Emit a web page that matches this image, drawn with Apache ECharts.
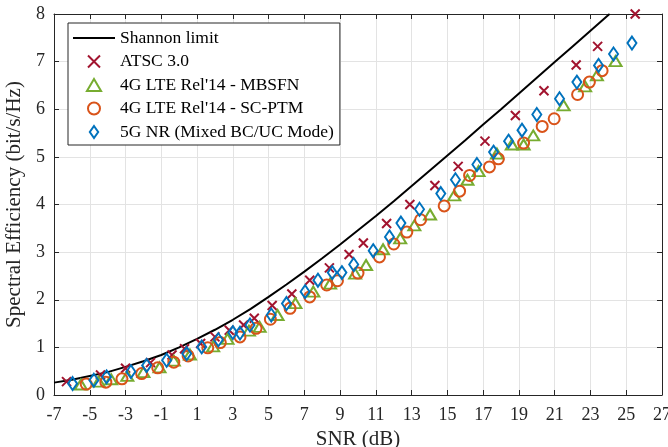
<!DOCTYPE html>
<html>
<head>
<meta charset="utf-8">
<script src="https://cdn.jsdelivr.net/npm/echarts@6/dist/echarts.min.js"></script>
<style>
html,body{margin:0;padding:0;background:#fff;}
#chart{width:668px;height:447px;}
</style>
</head>
<body>
<div id="chart"></div>
<script>
// Shannon limit
const snrShannon = [-7,-6,-5,-4,-3,-2,-1,0,1,2,3,4,5,6,7,8,9,10,11,12,13,14,15,16,17,18,19,20,21,22,23,24,24.07];
const seShannon  = [0.26,0.32,0.40,0.48,0.59,0.71,0.84,1.00,1.18,1.37,1.58,1.81,2.06,2.32,2.59,2.87,3.16,3.46,3.76,4.07,4.39,4.71,5.03,5.35,5.68,6.00,6.33,6.66,6.99,7.32,7.65,7.98,8.00];

// ATSC 3.0
const snrATSC = [-6.3,-4.4,-3.0,-1.6,-0.4,0.3,1.2,2.0,2.8,3.6,4.2,5.2,6.3,7.3,8.4,9.5,10.3,11.6,12.9,14.3,15.6,17.1,18.8,20.4,22.2,23.4,25.5];
const seATSC  = [0.28,0.42,0.56,0.68,0.84,0.97,1.08,1.22,1.36,1.47,1.61,1.88,2.12,2.41,2.67,2.95,3.19,3.60,4.00,4.40,4.80,5.33,5.87,6.39,6.93,7.32,8.00];

// 4G LTE Rel'14 - MBSFN
const snrMBSFN = [-5.5,-4.5,-3.8,-2.9,-2.0,-1.1,-0.3,0.6,1.9,2.7,3.9,4.5,5.5,6.5,7.5,8.44,9.84,10.45,11.4,12.36,13.15,14.03,15.38,16.12,16.74,17.77,18.6,19.26,19.8,21.5,22.7,23.36,24.4];
const seMBSFN  = [0.22,0.28,0.33,0.40,0.48,0.58,0.72,0.85,1.02,1.18,1.35,1.43,1.68,1.93,2.17,2.34,2.55,2.73,3.06,3.29,3.56,3.79,4.19,4.52,4.70,5.07,5.26,5.26,5.45,6.08,6.48,6.71,7.01];

// 4G LTE Rel'14 - SC-PTM
const snrSCPTM = [-5.2,-4.1,-3.2,-2.1,-1.2,-0.3,0.5,1.6,2.3,3.4,4.3,5.1,6.2,7.3,8.25,8.85,10.0,11.2,12.0,12.73,13.5,14.82,15.68,16.24,17.35,17.85,19.26,20.3,20.97,22.28,22.94,23.65];
const seSCPTM  = [0.23,0.27,0.34,0.45,0.57,0.69,0.82,0.99,1.10,1.22,1.40,1.59,1.82,2.06,2.31,2.40,2.56,2.90,3.17,3.42,3.68,3.97,4.28,4.61,4.79,4.96,5.29,5.64,5.80,6.31,6.57,6.81];

// 5G NR (Mixed BC/UC Mode)
const snrNR = [-5.96,-4.77,-4.06,-2.7,-1.82,-0.7,0.42,1.26,2.19,3.0,3.4,3.96,5.15,6.0,7.04,7.76,8.56,9.1,9.76,10.85,11.76,12.4,13.44,14.63,15.45,16.65,17.58,18.42,19.17,20.0,21.27,22.24,23.45,24.29,25.32];
const seNR  = [0.24,0.31,0.38,0.49,0.62,0.73,0.87,1.01,1.16,1.31,1.30,1.47,1.68,1.92,2.17,2.41,2.57,2.57,2.74,3.03,3.32,3.61,3.90,4.23,4.52,4.84,5.10,5.33,5.56,5.89,6.22,6.57,6.92,7.16,7.39];

const xTicks = {min:-7, max:27, interval:2};
const yTicks = {min:0, max:8, interval:1};

const names = ['Shannon limit','ATSC 3.0',"4G LTE Rel'14 - MBSFN","4G LTE Rel'14 - SC-PTM",'5G NR (Mixed BC/UC Mode)'];
const colors = ['#000000','#A2142F','#77AC30','#D95319','#0072BD'];

const zip = (a,b) => a.map((v,i)=>[v,b[i]]);
const FONT = '"Liberation Serif","Times New Roman",serif';
const AX = '#262626';
const crossPath = 'path://M0,0L10,10M0,10L10,0';
const triPath = 'path://M5,0L10,8.5L0,8.5Z';
const diaPath = 'path://M3.5,0L7,5L3.5,10L0,5Z';
const linePath = 'path://M0,0L42,0L42,2L0,2Z';

const chart = echarts.init(document.getElementById('chart'), null, {renderer:'canvas'});

function mk(name, sym, size, color, x, y){
  return {
    name, type:'scatter', data: zip(x,y), symbol: sym, symbolSize: size,
    itemStyle:{color:'rgba(0,0,0,0)', borderColor: color, borderWidth: 2, opacity:1},
    emphasis:{disabled:true}, animation:false, z:3
  };
}

const axisCommon = {
  type:'value',
  axisLine:{show:true, onZero:false, lineStyle:{color:AX, width:1}},
  axisTick:{show:true, inside:true, length:5, lineStyle:{color:AX, width:1}},
};

const option = {
  animation:false,
  backgroundColor:'#ffffff',
  grid:{left:54, right:6, top:14, bottom:52, containLabel:false, outerBoundsMode:'none'},
  xAxis:[
    Object.assign({}, axisCommon, {
      position:'bottom', min:xTicks.min, max:xTicks.max, interval:xTicks.interval,
      name:'SNR (dB)', nameLocation:'middle', nameGap:29,
      nameTextStyle:{fontFamily:FONT, fontSize:21, color:AX},
      axisLabel:{show:true, margin:11, fontFamily:FONT, fontSize:18, color:AX},
      splitLine:{show:true, lineStyle:{color:'#e3e3e3', width:1}}
    }),
    Object.assign({}, axisCommon, {
      position:'top', min:xTicks.min, max:xTicks.max, interval:xTicks.interval,
      axisLabel:{show:false}, splitLine:{show:false}
    })
  ],
  yAxis:[
    Object.assign({}, axisCommon, {
      position:'left', min:yTicks.min, max:yTicks.max, interval:yTicks.interval,
      name:'Spectral Efficiency (bit/s/Hz)', nameLocation:'middle', nameGap:26,
      nameTextStyle:{fontFamily:FONT, fontSize:21, color:AX},
      axisLabel:{show:true, margin:9, fontFamily:FONT, fontSize:18, color:AX},
      splitLine:{show:true, lineStyle:{color:'#e3e3e3', width:1}}
    }),
    Object.assign({}, axisCommon, {
      position:'right', min:yTicks.min, max:yTicks.max, interval:yTicks.interval,
      axisLabel:{show:false}, splitLine:{show:false}
    })
  ],
  legend:{
    show:true, orient:'vertical', left:68, top:23,
    backgroundColor:'#ffffff', borderColor:AX, borderWidth:1, borderRadius:0,
    padding:[6,6,4,5], itemGap:5.5, itemWidth:42, itemHeight:12,
    textStyle:{fontFamily:FONT, fontSize:17.5, color:'#000', lineHeight:18},
    selectedMode:false,
    data:[
      {name:names[0], icon:linePath, itemStyle:{color:'#000', borderWidth:0}},
      {name:names[1], icon:crossPath, itemStyle:{color:'rgba(0,0,0,0)', borderColor:colors[1], borderWidth:2}},
      {name:names[2], icon:triPath, itemStyle:{color:'rgba(0,0,0,0)', borderColor:colors[2], borderWidth:2}},
      {name:names[3], icon:'circle', itemStyle:{color:'rgba(0,0,0,0)', borderColor:colors[3], borderWidth:2}},
      {name:names[4], icon:diaPath, itemStyle:{color:'rgba(0,0,0,0)', borderColor:colors[4], borderWidth:2}}
    ]
  },
  series:[
    {name:names[0], type:'line', data: zip(snrShannon, seShannon), showSymbol:false, symbol:'none',
     lineStyle:{color:colors[0], width:2}, itemStyle:{color:colors[0]}, smooth:false, z:2, animation:false,
     emphasis:{disabled:true}},
    mk(names[1], crossPath, [9,9], colors[1], snrATSC, seATSC),
    mk(names[2], 'triangle', [12,10], colors[2], snrMBSFN, seMBSFN),
    mk(names[3], 'circle', 11, colors[3], snrSCPTM, seSCPTM),
    mk(names[4], 'diamond', [9,13], colors[4], snrNR, seNR)
  ]
};
chart.setOption(option);
</script>
</body>
</html>
